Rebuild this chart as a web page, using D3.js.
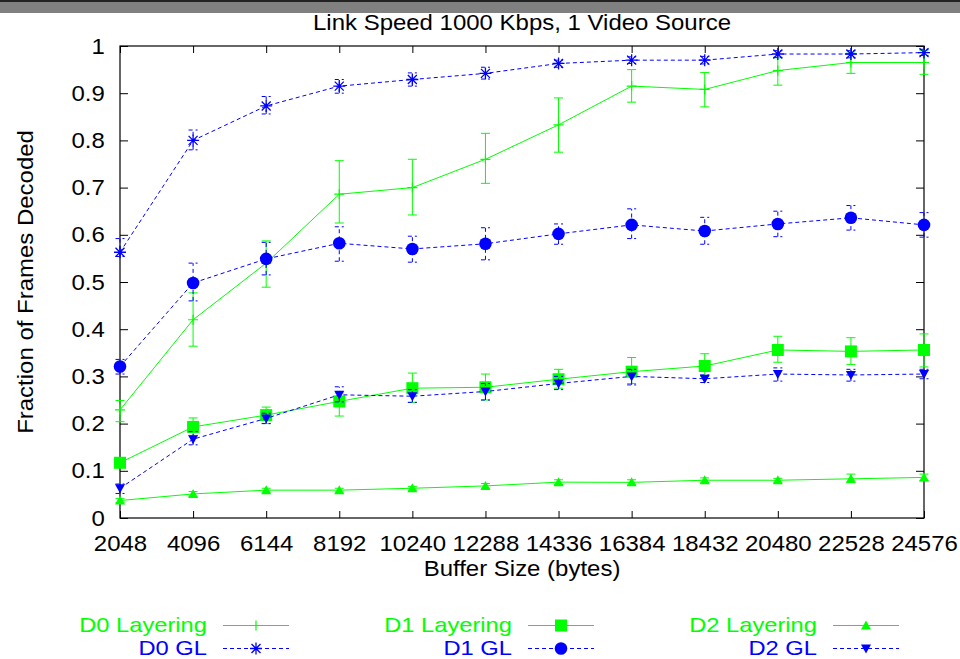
<!DOCTYPE html>
<html>
<head>
<meta charset="utf-8">
<script src="https://cdn.jsdelivr.net/npm/d3@7"></script>
<style>
  body { margin: 0; background: #fff; }
  text { font-family: "Liberation Sans", Arial, sans-serif; }
</style>
</head>
<body>
<div id="chart"></div>
<script>
// chart data
var bufferSizes = [2048, 4096, 6144, 8192, 10240, 12288, 14336, 16384, 18432, 20480, 22528, 24576];
var yTicks = [0, 0.1, 0.2, 0.3, 0.4, 0.5, 0.6, 0.7, 0.8, 0.9, 1];

var d0Layering   = [0.229, 0.42, 0.54, 0.686, 0.70, 0.76, 0.833, 0.915, 0.908, 0.948, 0.965, 0.965];
var d0LayeringLo = [0.204, 0.364, 0.489, 0.625, 0.642, 0.709, 0.775, 0.881, 0.871, 0.917, 0.942, 0.94];
var d0LayeringHi = [0.249, 0.477, 0.587, 0.757, 0.76, 0.815, 0.89, 0.95, 0.944, 0.975, 0.985, 0.99];

var d0GL   = [0.563, 0.80, 0.873, 0.915, 0.929, 0.942, 0.963, 0.97, 0.97, 0.983, 0.983, 0.986];
var d0GLLo = [0.554, 0.78, 0.856, 0.90, 0.915, 0.93, 0.955, 0.963, 0.962, 0.976, 0.975, 0.98];
var d0GLHi = [0.592, 0.822, 0.893, 0.929, 0.943, 0.955, 0.97, 0.977, 0.978, 0.99, 0.99, 0.993];

var d1Layering   = [0.117, 0.193, 0.218, 0.247, 0.275, 0.277, 0.294, 0.31, 0.322, 0.356, 0.353, 0.356];
var d1LayeringLo = [0.11, 0.175, 0.2, 0.216, 0.245, 0.25, 0.275, 0.285, 0.3, 0.33, 0.325, 0.32];
var d1LayeringHi = [0.125, 0.212, 0.235, 0.265, 0.307, 0.305, 0.315, 0.34, 0.348, 0.385, 0.382, 0.39];

var d1GL   = [0.321, 0.498, 0.549, 0.582, 0.57, 0.581, 0.602, 0.621, 0.608, 0.623, 0.636, 0.621];
var d1GLLo = [0.305, 0.46, 0.515, 0.544, 0.542, 0.547, 0.58, 0.592, 0.58, 0.596, 0.61, 0.595];
var d1GLHi = [0.336, 0.54, 0.584, 0.617, 0.597, 0.615, 0.623, 0.655, 0.637, 0.65, 0.662, 0.647];

var d2Layering   = [0.037, 0.051, 0.059, 0.059, 0.063, 0.068, 0.076, 0.0755, 0.08, 0.08, 0.083, 0.086];
var d2LayeringLo = [0.033, 0.046, 0.055, 0.055, 0.059, 0.063, 0.071, 0.07, 0.075, 0.076, 0.075, 0.079];
var d2LayeringHi = [0.041, 0.056, 0.063, 0.063, 0.067, 0.073, 0.081, 0.081, 0.085, 0.084, 0.093, 0.093];

var d2GL   = [0.063, 0.167, 0.211, 0.261, 0.258, 0.268, 0.285, 0.3, 0.295, 0.305, 0.303, 0.305];
var d2GLLo = [0.052, 0.155, 0.2, 0.246, 0.245, 0.25, 0.272, 0.282, 0.287, 0.29, 0.29, 0.295];
var d2GLHi = [0.072, 0.183, 0.222, 0.278, 0.272, 0.285, 0.3, 0.315, 0.303, 0.318, 0.315, 0.315];

var GREEN = "#00ff00", BLUE = "#0000ff";

var series = [
  {name: "D0 Layering", v: d0Layering, lo: d0LayeringLo, hi: d0LayeringHi, color: GREEN, dash: null, mark: "plus"},
  {name: "D0 GL", v: d0GL, lo: d0GLLo, hi: d0GLHi, color: BLUE, dash: "4,3", mark: "star"},
  {name: "D1 Layering", v: d1Layering, lo: d1LayeringLo, hi: d1LayeringHi, color: GREEN, dash: null, mark: "square"},
  {name: "D1 GL", v: d1GL, lo: d1GLLo, hi: d1GLHi, color: BLUE, dash: "4,3", mark: "circle"},
  {name: "D2 Layering", v: d2Layering, lo: d2LayeringLo, hi: d2LayeringHi, color: GREEN, dash: null, mark: "triUp"},
  {name: "D2 GL", v: d2GL, lo: d2GLLo, hi: d2GLHi, color: BLUE, dash: "4,3", mark: "triDown"}
];

var svgWidth = 960, svgHeight = 659;
var margin = {top: 46, right: 36, bottom: 141, left: 120};
var chartWidth = svgWidth - margin.left - margin.right;
var chartHeight = svgHeight - margin.top - margin.bottom;
var SX = 1.09; // the original font runs a little wider than Liberation Sans

var svg = d3.select("#chart").append("svg")
  .attr("width", svgWidth)
  .attr("height", svgHeight);

// grey window strip along the top
svg.append("rect").attr("x", 0).attr("y", 0).attr("width", svgWidth).attr("height", 13).attr("fill", "#808080");
svg.append("rect").attr("x", 0).attr("y", 0).attr("width", svgWidth).attr("height", 2).attr("fill", "#222");

var g = svg.append("g").attr("transform", `translate(${margin.left},${margin.top})`);

var x = d3.scaleLinear().domain([2048, 24576]).range([0, chartWidth]);
var y = d3.scaleLinear().domain([0, 1]).range([chartHeight, 0]);

// axes, ticks pointing inward, mirrored on top and right
var fmt = d => d3.format("")(+d.toFixed(1));
var bottomAxis = d3.axisBottom(x).tickValues(bufferSizes).tickSize(-7).tickPadding(17).tickFormat(d3.format("d"));
var topAxis = d3.axisTop(x).tickValues(bufferSizes).tickSize(-7).tickFormat("");
var leftAxis = d3.axisLeft(y).tickValues(yTicks).tickSize(-8).tickPadding(14).tickFormat(fmt);
var rightAxis = d3.axisRight(y).tickValues(yTicks).tickSize(-8).tickFormat("");

function styleAxis(sel) {
  sel.select(".domain").remove();
  sel.selectAll("line").attr("stroke", "#000");
  sel.selectAll("text").attr("font-size", "22px").attr("fill", "#000")
    .attr("transform", `scale(${SX},1)`)
    .style("font-family", "'Liberation Sans', Arial, sans-serif");
}

g.append("g").attr("transform", `translate(0,${chartHeight})`).call(bottomAxis).call(styleAxis);
g.append("g").call(topAxis).call(styleAxis);
g.append("g").call(leftAxis).call(styleAxis);
g.append("g").attr("transform", `translate(${chartWidth},0)`).call(rightAxis).call(styleAxis);

g.append("rect").attr("x", 0).attr("y", 0).attr("width", chartWidth).attr("height", chartHeight)
  .attr("fill", "none").attr("stroke", "#000").attr("stroke-width", 1.2);

// text placed at (px,py), stretched a bit horizontally
function label(px, py, str, anchor, color, extra, size, sx) {
  return svg.append("text")
    .attr("transform", `translate(${px},${py})${extra || ""} scale(${sx || SX},1)`)
    .attr("text-anchor", anchor).attr("font-size", (size || 22) + "px").attr("fill", color || "#000")
    .text(str);
}

label(522, 30, "Link Speed 1000 Kbps, 1 Video Source", "middle");
label(522, 576, "Buffer Size (bytes)", "middle");
label(33, 282, "Fraction of Frames Decoded", "middle", "#000", " rotate(-90)");

// marker drawing
function drawMark(sel, kind, color) {
  if (kind === "plus") {
    sel.append("path").attr("d", "M-5,0H5M0,-5V5").attr("stroke", color).attr("stroke-width", 1.2).attr("fill", "none");
  } else if (kind === "star") {
    sel.append("path").attr("d", "M-6,0H6M0,-6V6M-4.5,-4.5L4.5,4.5M-4.5,4.5L4.5,-4.5")
      .attr("stroke", color).attr("stroke-width", 1.3).attr("fill", "none");
  } else if (kind === "square") {
    sel.append("rect").attr("x", -6).attr("y", -6).attr("width", 12).attr("height", 12).attr("fill", color);
  } else if (kind === "circle") {
    sel.append("circle").attr("r", 6.3).attr("fill", color);
  } else if (kind === "triUp") {
    sel.append("path").attr("d", "M0,-5L5,4H-5Z").attr("fill", color);
  } else if (kind === "triDown") {
    sel.append("path").attr("d", "M0,5L5,-4H-5Z").attr("fill", color);
  }
}

var line = d3.line().x(d => x(d.x)).y(d => y(d.v));

series.forEach(function(s) {
  var pts = bufferSizes.map((b, i) => ({x: b, v: s.v[i], lo: s.lo[i], hi: s.hi[i]}));
  var sg = g.append("g");

  // error bars
  var eb = sg.selectAll(".err").data(pts).enter().append("path")
    .attr("class", "err")
    .attr("d", d => {
      var cx = x(d.x), y0 = y(d.lo), y1 = y(d.hi);
      return `M${cx},${y0}V${y1}M${cx - 4.5},${y0}H${cx + 4.5}M${cx - 4.5},${y1}H${cx + 4.5}`;
    })
    .attr("stroke", s.color).attr("stroke-width", 1).attr("fill", "none");
  if (s.dash) eb.attr("stroke-dasharray", s.dash);

  var path = sg.append("path").datum(pts).attr("d", line)
    .attr("fill", "none").attr("stroke", s.color).attr("stroke-width", 1);
  if (s.dash) path.attr("stroke-dasharray", s.dash);

  sg.selectAll(".mark").data(pts).enter().append("g")
    .attr("class", "mark")
    .attr("transform", d => `translate(${x(d.x)},${y(d.v)})`)
    .each(function() { drawMark(d3.select(this), s.mark, s.color); });
});

// legend: three columns, two rows
var legendCols = [207, 512, 817];
var legendRows = [632, 655];
series.forEach(function(s, i) {
  var col = Math.floor(i / 2), row = i % 2;
  var tx = legendCols[col], ty = legendRows[row];
  label(tx, ty, s.name, "end", s.color, "", 21, 1.13);
  var ly = ty - 6.5;
  var l = svg.append("line").attr("x1", tx + 16).attr("x2", tx + 82).attr("y1", ly).attr("y2", ly)
    .attr("stroke", s.color).attr("stroke-width", 1);
  if (s.dash) l.attr("stroke-dasharray", s.dash);
  var mg = svg.append("g").attr("transform", `translate(${tx + 49},${ly})`);
  drawMark(mg, s.mark, s.color);
});
</script>
</body>
</html>
